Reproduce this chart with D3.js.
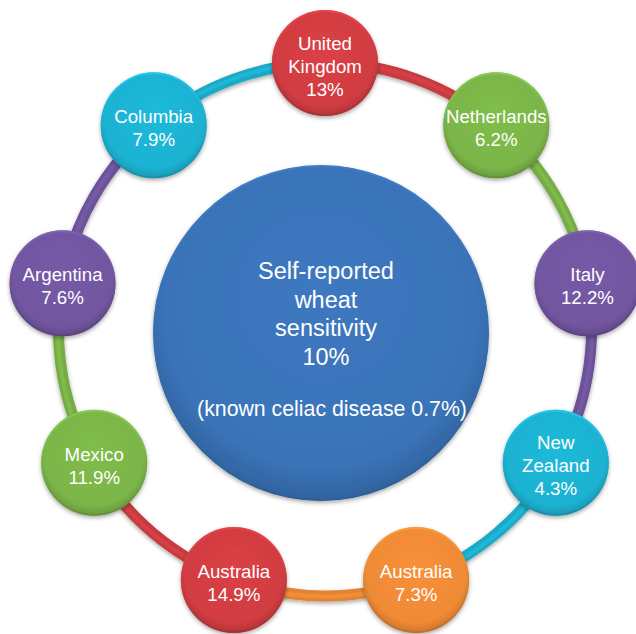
<!DOCTYPE html>
<html>
<head>
<meta charset="utf-8">
<script src="https://cdn.jsdelivr.net/npm/d3@7"></script>
<style>
html,body{margin:0;padding:0;background:#fff;}
svg{display:block;}
text{font-family:"Liberation Sans",Arial,Helvetica,sans-serif;fill:#fff;}
</style>
</head>
<body>
<svg id="chart" width="636" height="634"></svg>
<script>
// ---- data ----
const countries = ["United Kingdom", "Netherlands", "Italy", "New Zealand", "Australia", "Australia", "Mexico", "Argentina", "Columbia"];
const labelLines = [["United", "Kingdom"], ["Netherlands"], ["Italy"], ["New", "Zealand"], ["Australia"], ["Australia"], ["Mexico"], ["Argentina"], ["Columbia"]];
const values = [13, 6.2, 12.2, 4.3, 7.3, 14.9, 11.9, 7.6, 7.9];
const colorKeys = ["red", "green", "purple", "cyan", "orange", "red", "green", "purple", "cyan"];
const centerLines = ["Self-reported", "wheat", "sensitivity"];
const centerValue = 10;
const centerNote = "(known celiac disease 0.7%)";

// ---- styles ----
const palette = {
  red: "#d13d42",
  green: "#7bb548",
  purple: "#7256a0",
  cyan: "#1eb2d2",
  orange: "#ef8a36",
  blue: "#3a73b8"
};
const cx = 325, cy = 329.5, R = 266.5, rSmall = 53;
const cCx = 321, cCy = 333, rCenter = 168;

const svg = d3.select("#chart");
const defs = svg.append("defs");

const shadow = defs.append("filter").attr("id", "shadow")
  .attr("x", "-20%").attr("y", "-20%").attr("width", "140%").attr("height", "140%");
shadow.append("feDropShadow").attr("dx", 0).attr("dy", 2).attr("stdDeviation", 2)
  .attr("flood-color", "#000").attr("flood-opacity", 0.35);

function makeGrad(key) {
  const base = d3.color(palette[key]);
  const g = defs.append("radialGradient").attr("id", "g-" + key)
    .attr("cx", "50%").attr("cy", "45%").attr("r", "55%").attr("fx", "50%").attr("fy", "35%");
  g.append("stop").attr("offset", "0%").attr("stop-color", base.brighter(0.12));
  g.append("stop").attr("offset", "85%").attr("stop-color", base);
  g.append("stop").attr("offset", "100%").attr("stop-color", base.darker(0.45));
  const lg = defs.append("linearGradient").attr("id", "rim-" + key)
    .attr("x1", 0).attr("y1", 0).attr("x2", 0).attr("y2", 1);
  lg.append("stop").attr("offset", "0%").attr("stop-color", base.brighter(0.4));
  lg.append("stop").attr("offset", "100%").attr("stop-color", base.darker(0.7));
}
Object.keys(palette).forEach(makeGrad);

// ---- scales ----
const angle = d3.scaleLinear().domain([0, countries.length]).range([0, 2 * Math.PI]);
const px = i => cx + R * Math.sin(angle(i));
const py = i => cy - R * Math.cos(angle(i));

// ---- ring arcs ----
const arcGen = d3.arc().innerRadius(R - 5.5).outerRadius(R + 5.5);
const arcHi = d3.arc().innerRadius(R - 1.5).outerRadius(R + 2.5);
const ringG = svg.append("g").attr("transform", `translate(${cx},${cy})`);
countries.forEach((c, i) => {
  const a = {startAngle: angle(i), endAngle: angle(i + 1)};
  const base = d3.color(palette[colorKeys[i]]);
  ringG.append("path").attr("d", arcGen(a)).attr("fill", base.darker(0.15))
    .attr("filter", "url(#shadow)");
  ringG.append("path").attr("d", arcHi(a)).attr("fill", base.brighter(0.25)).attr("opacity", 0.55);
});

// ---- center circle ----
svg.append("circle").attr("cx", cCx).attr("cy", cCy).attr("r", rCenter)
  .attr("fill", "url(#g-blue)").attr("filter", "url(#shadow)");
svg.append("circle").attr("cx", cCx).attr("cy", cCy).attr("r", rCenter - 1)
  .attr("fill", "none").attr("stroke", "url(#rim-blue)").attr("stroke-width", 1.5).attr("opacity", 0.6);

const centerAll = centerLines.concat([centerValue + "%"]);
const ct = svg.append("text").attr("text-anchor", "middle").style("font-size", "23.5px");
centerAll.forEach((l, k) => {
  ct.append("tspan").attr("x", 326).attr("y", 279 + k * 28.5).text(l);
});
svg.append("text").attr("text-anchor", "middle").attr("x", 332).attr("y", 416)
  .style("font-size", "21.3px").text(centerNote);

// ---- node circles ----
const nodes = svg.selectAll("g.node").data(countries.map((c, i) => ({c, i, v: values[i], k: colorKeys[i], lines: labelLines[i]})))
  .enter().append("g").attr("class", "node")
  .attr("transform", d => `translate(${px(d.i)},${py(d.i)})`);

nodes.append("circle").attr("r", rSmall).attr("fill", d => `url(#g-${d.k})`).attr("filter", "url(#shadow)");
nodes.append("circle").attr("r", rSmall - 1).attr("fill", "none")
  .attr("stroke", d => `url(#rim-${d.k})`).attr("stroke-width", 2).attr("opacity", 0.7);

nodes.each(function(d) {
  const g = d3.select(this);
  const all = d.lines.concat([d.v + "%"]);
  const lh = 23;
  const y0 = -(all.length - 1) * lh / 2 + 9.5;
  const t = g.append("text").attr("text-anchor", "middle").style("font-size", "18.7px");
  all.forEach((l, k) => t.append("tspan").attr("x", 0).attr("y", y0 + k * lh).text(l));
});
</script>
</body>
</html>
